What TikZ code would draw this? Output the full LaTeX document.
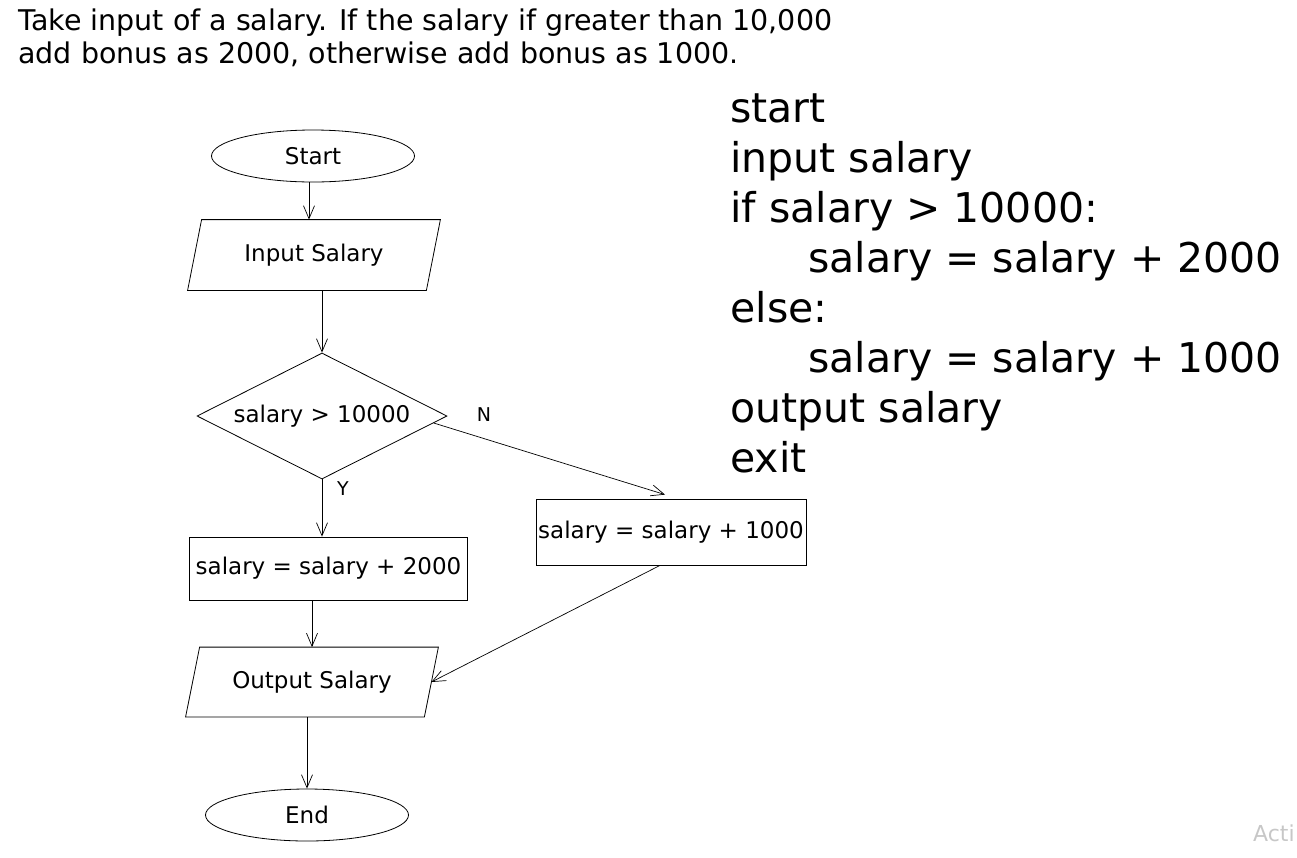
\documentclass[tikz,border=0pt]{standalone}
\usepackage{fontspec}
\setmainfont{DejaVu Sans}
\usetikzlibrary{shapes.geometric,arrows.meta,calc}
\begin{document}
\begin{tikzpicture}[x=1pt,y=-1pt,
  line width=0.8pt,
  arr/.style={-{Straight Barb[length=13pt,width=11pt]}, line width=0.7pt},
  lbl/.style={font=\fontsize{23}{27}\selectfont, inner sep=0pt},
  term/.style={ellipse, draw, minimum width=203pt, minimum height=52pt, inner sep=0pt, lbl},
  pbody/.style={rectangle, minimum width=238pt, minimum height=70pt, inner sep=0pt, lbl},
  procbox/.style={rectangle, draw, inner sep=0pt, lbl},
  decision/.style={diamond, draw, shape aspect=2, minimum width=250pt, minimum height=126pt, inner sep=0pt, lbl},
  code/.style={font=\fontsize{41}{50}\selectfont, anchor=base west, inner sep=0pt},
  title/.style={font=\fontsize{28.5}{33}\selectfont, anchor=base west, inner sep=0pt},
  yn/.style={font=\fontsize{19}{21}\selectfont, inner sep=0pt}
]
\useasboundingbox (0,0) rectangle (1297,857);

% title
\node[title] (t1) at (18,30) {Take input of a salary. If the salary if greater than 10,000};
\node[title] (t2) at (18,63) {add bonus as 2000, otherwise add bonus as 1000.};

% flowchart nodes
\node[term] (start) at (313,156) {Start};
\node[pbody] (in) at (314,255) {Input Salary};
\draw ($(in.north west)+(7,0)$) -- ($(in.north east)+(7,0)$) -- ($(in.south east)+(-7,0)$) -- ($(in.south west)+(-7,0)$) -- cycle;
\node[decision] (dec) at (322,416) {salary > 10000};
\node[procbox, minimum width=278pt, minimum height=63pt] (b2) at (328.5,568.5) {salary = salary + 2000};
\node[procbox, minimum width=270pt, minimum height=66pt] (b1) at (671,532) {salary = salary + 1000};
\node[pbody, minimum height=69pt] (out) at (312,682) {Output Salary};
\draw ($(out.north west)+(7,0)$) -- ($(out.north east)+(7,0)$) -- ($(out.south east)+(-7,0)$) -- ($(out.south west)+(-7,0)$) -- cycle;
\node[term] (end) at (307,815) {End};

\node[yn] (nl) at (484,415) {N};
\node[yn] (yl) at (343,489) {Y};

% connectors
\draw[arr] ([xshift=-4pt]start.south) -- ([xshift=-4pt]start.south |- in.north);
\draw[arr] (in.south -| dec.north) -- (dec.north);
\draw[arr] (dec.south) -- (dec.south |- b2.north);
\draw[arr] ($(dec.east)!0.11!(dec.south)$) -- ([xshift=-6pt,yshift=4pt]b1.north);
\draw[arr] (b2.south -| out.north) -- (out.north);
\draw[arr] ([xshift=-11pt]b1.south) -- (out.east);
\draw[arr] (out.south -| end.north) -- (end.north);

% pseudo code
\node[code] (c1) at (730,122) {start};
\node[code] (c2) at (730,172) {input salary};
\node[code] (c3) at (730,222) {if salary > 10000:};
\node[code] (c4) at (808,272) {salary = salary + 2000};
\node[code] (c5) at (730,322) {else:};
\node[code] (c6) at (808,372) {salary = salary + 1000};
\node[code] (c7) at (730,422) {output salary};
\node[code] (c8) at (730,472) {exit};

% watermark
\node[anchor=base east, font=\fontsize{22}{26}\selectfont, text=black!22, inner sep=0pt] (wm) at (1295,841) {Acti};
\end{tikzpicture}
\end{document}
